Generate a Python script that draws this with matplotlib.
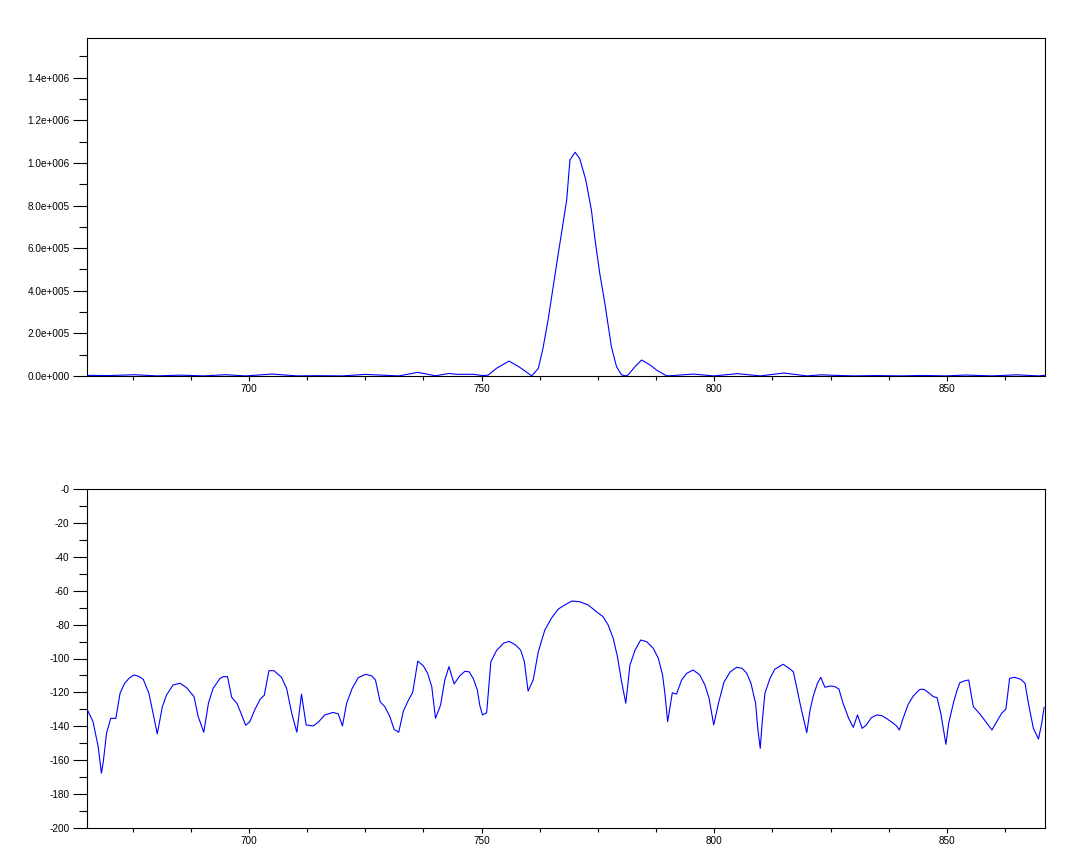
import matplotlib
matplotlib.use("Agg")
import matplotlib.pyplot as plt
from matplotlib.ticker import FixedLocator, FixedFormatter, MultipleLocator

plt.rcParams['font.family'] = ['Liberation Sans', 'DejaVu Sans']

# ---------------- data ----------------
x_ticks = [700, 750, 800, 850]
x_tick_labels = ['700', '750', '800', '850']

top_y_ticks = [0, 2e5, 4e5, 6e5, 8e5, 1.0e6, 1.2e6, 1.4e6]
top_y_labels = ['0.0e+000', '2.0e+005', '4.0e+005', '6.0e+005',
                '8.0e+005', '1.0e+006', '1.2e+006', '1.4e+006']

bot_y_ticks = [0, -20, -40, -60, -80, -100, -120, -140, -160, -180, -200]
bot_y_labels = ['-0', '-20', '-40', '-60', '-80', '-100', '-120',
                '-140', '-160', '-180', '-200']

# linear spectrum (top)
top_x = [665.3, 670, 675.3, 680.3, 685.2, 690.3, 695, 699.3, 705, 710.3,
         715, 720, 725, 732.2, 736.3, 740.1, 743.0, 744.6, 748.2, 750.2,
         751.4, 753.2, 755.9, 758.2, 760.8, 762.2, 763.2, 764.3, 765.4, 766.5,
         767.4, 768.3, 769.0, 770.1, 771.1, 772.4, 773.6, 774.4, 775.4, 776.5,
         777.9, 779.0, 780.1, 781.0, 781.5, 783.0, 784.4, 786.2, 787.6, 789.4,
         790.0, 795.5, 799.9, 805, 809.9, 815, 819.9, 823, 826, 830,
         835, 840, 845, 849.8, 854, 859.7, 865, 869.7, 871]
top_y = [3000, 2000, 6000, 500, 4000, 500, 6000, 500, 9000, 500,
         1500, 300, 7500, 500, 17000, 1000, 12000, 8000, 8000, 2000,
         4000, 36000, 70000, 41000, 500, 36000, 130000, 263000, 419000, 576000,
         700000, 826000, 1014000, 1050000, 1020000, 920000, 780000, 638000, 482000, 341000,
         138000, 44000, 5000, 500, 5000, 44000, 75000, 52000, 28000, 5000,
         500, 9000, 500, 11000, 500, 14000, 500, 5500, 3000, 500,
         2000, 500, 2500, 500, 4500, 500, 5500, 500, 3000]

# dB spectrum (bottom)
bot_x = [665.3, 666.5, 667.6, 668.3, 668.7, 669.4, 670.3, 671.4, 672.3, 673.3,
         674.3, 675.3, 676.3, 677.3, 678.5, 679.4, 680.3, 681.4, 682.3, 683.7,
         685.2, 686.6, 688.2, 689.1, 690.3, 691.3, 692.3, 693.8, 694.5, 695.4,
         696.3, 697.4, 698.3, 699.3, 700.2, 701.3, 702.4, 703.3, 704.3, 705.4,
         707.0, 708.1, 709.2, 710.3, 711.3, 712.3, 713.8, 715.0, 716.3, 718.1,
         719.2, 720.1, 721.0, 722.2, 723.5, 725.1, 726.4, 727.2, 728.2, 729.2,
         730.3, 731.2, 732.2, 733.2, 734.3, 735.2, 736.3, 737.5, 738.4, 739.3,
         740.1, 741.2, 742.1, 743.0, 744.1, 745.3, 746.4, 747.3, 748.2, 749.1,
         749.6, 750.2, 751.1, 752.0, 753.2, 754.7, 755.9, 757.3, 758.4, 759.2,
         760.0, 761.1, 762.2, 763.6, 765.1, 766.5, 767.9, 769.4, 771.1, 772.9,
         774.7, 776.1, 777.2, 778.3, 779.2, 780.1, 781.0, 781.9, 783.0, 784.2,
         785.5, 786.9, 788.0, 788.9, 789.4, 790.0, 791.0, 791.9, 793.0, 794.1,
         795.5, 796.9, 798.0, 798.9, 799.9, 801.0, 802.1, 803.4, 804.8, 806.0,
         807.0, 807.9, 808.9, 809.4, 809.9, 810.3, 810.9, 812.0, 813.0, 814.8,
         816.1, 817.0, 817.7, 818.6, 819.9, 820.6, 821.3, 822.2, 822.9, 823.8,
         824.9, 825.9, 826.8, 827.7, 828.9, 829.9, 830.8, 831.8, 832.7, 833.8,
         834.9, 836.0, 837.0, 838.4, 839.2, 839.8, 840.6, 841.7, 842.8, 844.2,
         845.1, 846.1, 847.1, 847.9, 848.7, 849.4, 849.8, 850.4, 851.4, 852.1,
         852.8, 853.9, 854.7, 855.7, 857.1, 858.6, 859.7, 860.7, 861.8, 862.7,
         863.5, 864.6, 865.9, 866.8, 867.6, 868.6, 869.7, 870.4, 870.9]
bot_y = [-130.4, -137.3, -152, -167.7, -161, -144, -135.3, -135.3, -120.5, -114.6,
         -111.5, -109.7, -110.5, -112.3, -120.5, -132.3, -144.5, -128.4, -121.5, -115.6,
         -114.6, -117.2, -122.5, -134.3, -143.5, -126.4, -117.6, -111.7, -110.7, -110.7,
         -122.9, -126.4, -132.3, -139.4, -137.3, -130.0, -124.1, -121.7, -107.2, -107.2,
         -111.1, -117.6, -132.3, -143.5, -121, -139.2, -139.8, -137.3, -133.3, -131.8,
         -132.7, -139.8, -126.4, -117.6, -111.3, -109.3, -110.3, -112.7, -125.5, -128.4,
         -134.3, -141.8, -143.5, -131.0, -124.5, -120, -101.5, -104.4, -108.7, -116.6,
         -135.3, -127.4, -112.7, -104.8, -115, -110.3, -107.6, -107.8, -111.7, -118.6,
         -127.4, -133.3, -132, -101.9, -95.4, -91, -89.9, -92, -95, -101.9,
         -119.2, -112.7, -96, -83.2, -75.9, -70.8, -68.4, -66.1, -66.5, -68.4,
         -72.4, -75.3, -80.2, -88.1, -98.9, -113.7, -126.4, -103.8, -95, -89.1,
         -90.1, -94, -99.9, -109.7, -120.5, -137.3, -120.2, -121, -112.7, -108.7,
         -106.8, -109.7, -115.6, -123.5, -139.2, -125.5, -114.0, -108, -105.2, -105.8,
         -108.7, -114.6, -126.4, -142.2, -153, -138.2, -120.5, -111.7, -106.4, -103.4,
         -105.8, -107.8, -116.6, -128.4, -143.8, -130.4, -122.1, -114.6, -111.1, -117,
         -116.2, -116.6, -118, -126.4, -135.3, -140.6, -133.3, -141.2, -139.2, -134.9,
         -133.3, -133.7, -135.3, -138, -139.8, -142.2, -135.3, -127, -122.1, -118.2,
         -118.2, -120.2, -122.5, -123.1, -132.3, -144.1, -150.6, -138.2, -126.4, -119.6,
         -114.3, -113.1, -112.7, -128.4, -132.7, -138.2, -142.2, -137.3, -132.3, -129.8,
         -111.7, -111.1, -112.3, -114.6, -127.4, -141.2, -147.5, -138.2, -128.8]

# ---------------- figure ----------------
W, H = 1080, 865
fig = plt.figure(figsize=(W / 100, H / 100), dpi=100)
ax1 = fig.add_axes([87 / W, 1 - 376 / H, (1045 - 87) / W, (376 - 38) / H])
ax2 = fig.add_axes([87 / W, 1 - 828 / H, (1045 - 87) / W, (828 - 489) / H])

line_kw = dict(color='#0000ff', linewidth=0.8, zorder=3)
ax1.plot(top_x, top_y, **line_kw)
ax2.plot(bot_x, bot_y, **line_kw)

ax1.set_xlim(665.2, 871.1)
ax2.set_xlim(665.2, 871.1)
ax1.set_ylim(0, 1.586e6)
ax2.set_ylim(-200, 0)

for ax, yt, yl, ymin in ((ax1, top_y_ticks, top_y_labels, 1e5),
                         (ax2, bot_y_ticks, bot_y_labels, 10)):
    ax.xaxis.set_major_locator(FixedLocator(x_ticks))
    ax.xaxis.set_major_formatter(FixedFormatter(x_tick_labels))
    ax.xaxis.set_minor_locator(MultipleLocator(12.5))
    ax.yaxis.set_major_locator(FixedLocator(yt))
    ax.yaxis.set_major_formatter(FixedFormatter(yl))
    ax.yaxis.set_minor_locator(MultipleLocator(ymin))
    ax.tick_params(axis='both', which='both', direction='out', width=0.8,
                   colors='black', labelsize=7.2)
    ax.tick_params(axis='y', which='major', length=10, pad=2.5)
    ax.tick_params(axis='y', which='minor', length=5.8)
    ax.tick_params(axis='x', which='major', length=3.6, pad=2.5)
    ax.tick_params(axis='x', which='minor', length=2.9)
    for s in ax.spines.values():
        s.set_linewidth(0.8)
        s.set_color('black')

fig.savefig('out.png', dpi=100, facecolor='white')
